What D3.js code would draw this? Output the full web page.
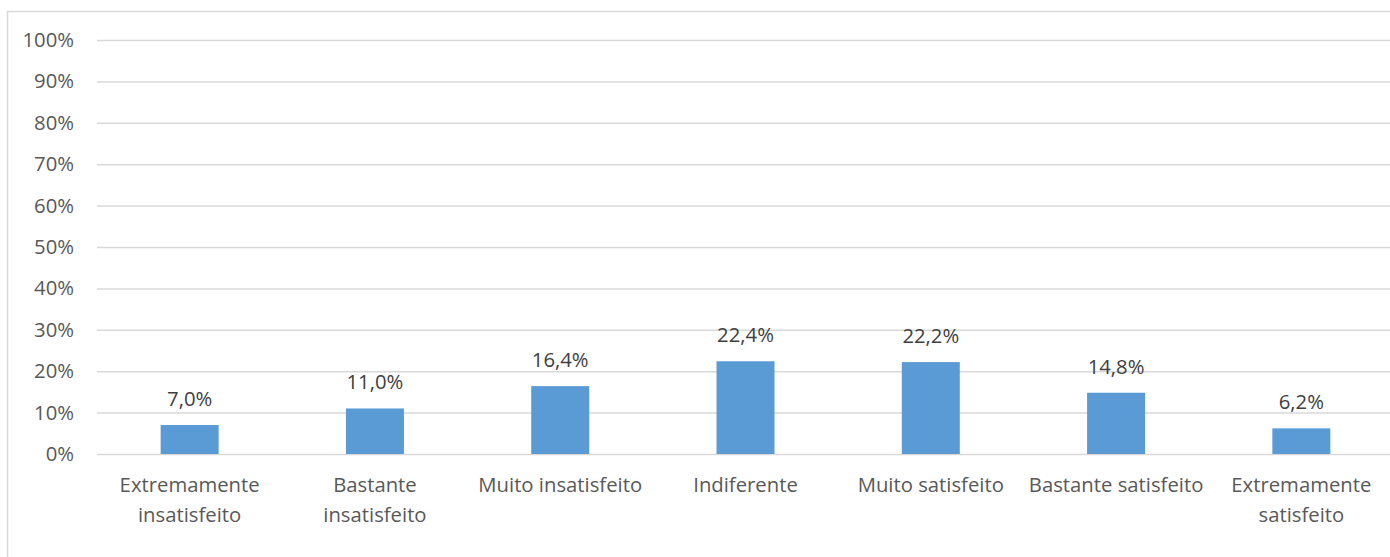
<!DOCTYPE html>
<html><head><meta charset="utf-8">
<script src="https://cdn.jsdelivr.net/npm/d3@7"></script>
<style>body{margin:0;background:#fff;overflow:hidden}</style>
</head><body>
<svg id="c" width="1390" height="557"></svg>
<script>
const categories = [["Extremamente","insatisfeito"],["Bastante","insatisfeito"],["Muito insatisfeito"],["Indiferente"],["Muito satisfeito"],["Bastante satisfeito"],["Extremamente","satisfeito"]];
const values = [7.0, 11.0, 16.4, 22.4, 22.2, 14.8, 6.2];
const yTicks = [0,10,20,30,40,50,60,70,80,90,100];

const svg = d3.select("#c");
const font = "'Open Sans', sans-serif";
const fs = "20.3px";
svg.append("rect").attr("x",7.5).attr("y",11.5).attr("width",1400).attr("height",600)
  .attr("fill","#fff").attr("stroke","#d9d9d9").attr("stroke-width",1.5);

const m = {left:97, right:1394, top:40, bottom:454};
const x = d3.scaleBand().domain(d3.range(categories.length)).range([m.left,m.right]).paddingInner(0.687).paddingOuter(0.3435);
const y = d3.scaleLinear().domain([0,100]).range([m.bottom,m.top]);

const yAxis = d3.axisLeft(y).tickValues(yTicks).tickSize(-(m.right-m.left)).tickFormat(d=>d+"%").tickPadding(23);
const gy = svg.append("g").attr("transform",`translate(${m.left},0)`).call(yAxis);
gy.select(".domain").remove();
gy.selectAll("line").attr("stroke","#d9d9d9").attr("stroke-width",1.5);
gy.selectAll("text").attr("fill","#595959").style("font-family",font).style("font-size",fs);

svg.append("g").selectAll("rect").data(values).join("rect")
  .attr("x",(d,i)=>x(i)).attr("width",x.bandwidth())
  .attr("y",d=>y(d)).attr("height",d=>y(0)-y(d)).attr("fill","#5b9bd5");

svg.append("g").selectAll("text").data(values).join("text")
  .attr("x",(d,i)=>x(i)+x.bandwidth()/2).attr("y",d=>y(d)-19)
  .attr("text-anchor","middle").attr("fill","#404040")
  .style("font-family",font).style("font-size",fs)
  .text(d=>d.toFixed(1).replace(".",",")+"%");

const xAxis = d3.axisBottom(x).tickSize(0).tickFormat("");
const gx = svg.append("g").attr("transform",`translate(0,${m.bottom})`).call(xAxis);
gx.select(".domain").remove();
gx.selectAll(".tick").each(function(d){
  const t = d3.select(this).append("text").attr("fill","#595959").attr("text-anchor","middle")
    .style("font-family",font).style("font-size",fs);
  categories[d].forEach((line,k)=>t.append("tspan").attr("x",0).attr("y",38+k*30).text(line));
});
</script>
</body></html>
